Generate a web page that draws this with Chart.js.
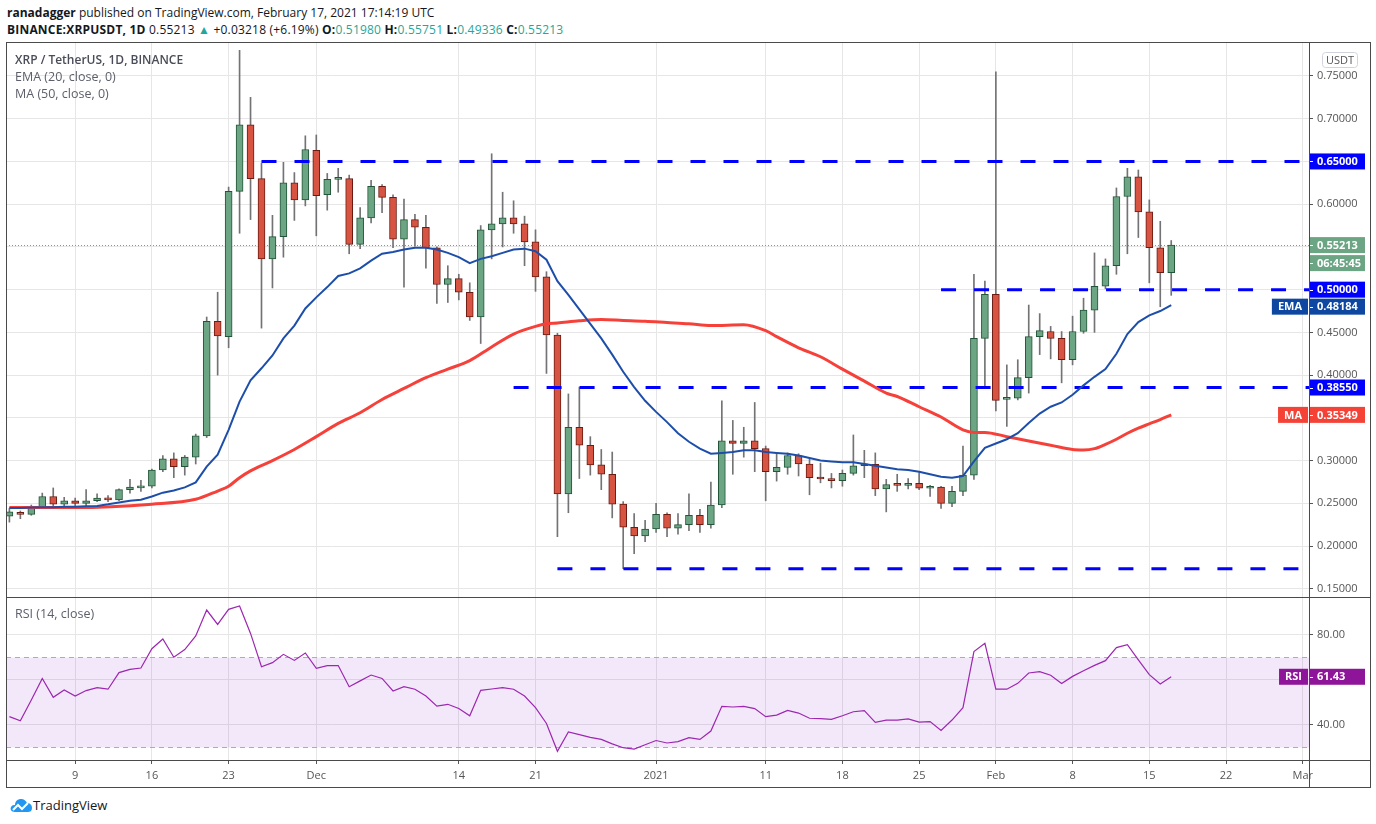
<!DOCTYPE html>
<html>
<head>
<meta charset="utf-8">
<title>XRP / TetherUS 1D</title>
<script src="https://cdn.jsdelivr.net/npm/chart.js@4.4.1/dist/chart.umd.min.js"></script>
<style>
  body { margin: 0; width: 1376px; height: 824px; overflow: hidden; background: #fff; position: relative; font-family: "Open Sans", "Liberation Sans", sans-serif; }
  canvas { position: absolute; left: 0; }
  .txt { position: absolute; white-space: nowrap; z-index: 3; }
  .hd { font-size: 12px; color: #131722; left: 7px; }
  .hd b { font-weight: 700; }
  .teal { color: #26a69a; }
  .leg { font-size: 12.5px; color: #5d606b; left: 15px; }
  .ln { position: absolute; background: #4a4a4a; z-index: 2; }
</style>
</head>
<body>

<div class="txt hd" style="top:4px"><b>ranadagger</b> published on TradingView.com, February 17, 2021 17:14:19 UTC</div>
<div class="txt hd" style="top:21px;letter-spacing:0.2px"><b>BINANCE:XRPUSDT, 1D</b> 0.55213 <span class="teal">&#9650;</span> +0.03218 (+6.19%) <b>O:</b><span class="teal">0.51980</span> <b>H:</b><span class="teal">0.55751</span> <b>L:</b><span class="teal">0.49336</span> <b>C:</b><span class="teal">0.55213</span></div>

<canvas id="main" width="1376" height="555" style="top:42px"></canvas>
<canvas id="rsi" width="1376" height="190" style="top:597px"></canvas>

<div class="txt leg" style="top:51px;font-size:12px;font-weight:600;color:#4a4d57">XRP / TetherUS, 1D, BINANCE</div>
<div class="txt leg" style="top:68px">EMA (20, close, 0)</div>
<div class="txt leg" style="top:85px">MA (50, close, 0)</div>
<div class="txt leg" style="top:605px">RSI (14, close)</div>

<!-- frame -->
<div class="ln" style="left:6px;top:42px;width:1364px;height:1px"></div>
<div class="ln" style="left:6px;top:787px;width:1365px;height:1px"></div>
<div class="ln" style="left:6px;top:42px;width:1px;height:745px"></div>
<div class="ln" style="left:1370px;top:42px;width:1px;height:745px"></div>
<div class="ln" style="left:6px;top:597px;width:1364px;height:1px"></div>
<div class="ln" style="left:6px;top:760px;width:1364px;height:1px"></div>
<div class="ln" style="left:1309px;top:42px;width:1px;height:745px"></div>

<svg style="position:absolute;left:10px;top:796px" width="22" height="18" viewBox="0 0 22 18">
  <path d="M5 16 C1 16 0 13 1 11 C2 9 4 9 5 9 C5 5 8 3 11 3 C14 3 16 5 17 7 C20 7 22 9 22 12 C22 15 20 16 18 16 Z" fill="#2196f3"/>
  <polyline points="3,14 8,9 12,13 18,7" fill="none" stroke="#fff" stroke-width="2"/>
</svg>
<div class="txt" style="left:33px;top:796px;font-size:13px;color:#131722">TradingView</div>

<script>
// Daily candles, index 0 = Nov 3 2020 ... index 106 = Feb 17 2021
const open = [
  0.235, 0.2395, 0.237, 0.245, 0.258, 0.249, 0.253, 0.250, 0.253, 0.256,
  0.254, 0.266, 0.268, 0.270, 0.289, 0.302, 0.293, 0.304, 0.329, 0.463,
  0.445, 0.615, 0.693, 0.630, 0.536, 0.562, 0.625, 0.605, 0.663, 0.611,
  0.629, 0.630, 0.553, 0.584, 0.621, 0.608, 0.559, 0.582, 0.573, 0.549,
  0.506, 0.513, 0.497, 0.468, 0.570, 0.577, 0.584, 0.577, 0.556, 0.515,
  0.447, 0.261, 0.339, 0.318, 0.295, 0.284, 0.249, 0.222, 0.212, 0.220,
  0.237, 0.221, 0.225, 0.236, 0.225, 0.248, 0.323, 0.320, 0.323, 0.314,
  0.287, 0.292, 0.306, 0.296, 0.280, 0.2785, 0.2766, 0.285, 0.294, 0.2955,
  0.267, 0.272, 0.271, 0.2734, 0.2676, 0.269, 0.250, 0.264, 0.283, 0.443,
  0.4946, 0.3716, 0.373, 0.397, 0.445, 0.451, 0.443, 0.418, 0.451, 0.476,
  0.504, 0.528, 0.609, 0.632, 0.591, 0.549, 0.5198
];
const high = [
  0.244, 0.241, 0.248, 0.262, 0.268, 0.257, 0.256, 0.266, 0.261, 0.259,
  0.267, 0.278, 0.277, 0.290, 0.306, 0.309, 0.306, 0.331, 0.468, 0.497,
  0.620, 0.780, 0.725, 0.648, 0.587, 0.649, 0.637, 0.680, 0.681, 0.636,
  0.642, 0.634, 0.596, 0.628, 0.623, 0.611, 0.606, 0.588, 0.587, 0.550,
  0.528, 0.518, 0.508, 0.575, 0.659, 0.614, 0.604, 0.586, 0.570, 0.521,
  0.449, 0.378, 0.386, 0.328, 0.313, 0.310, 0.252, 0.238, 0.230, 0.250,
  0.239, 0.238, 0.261, 0.243, 0.275, 0.370, 0.347, 0.339, 0.368, 0.317,
  0.309, 0.309, 0.308, 0.302, 0.297, 0.285, 0.289, 0.330, 0.312, 0.309,
  0.278, 0.284, 0.279, 0.286, 0.271, 0.270, 0.270, 0.317, 0.518, 0.510,
  0.755, 0.412, 0.418, 0.482, 0.472, 0.457, 0.451, 0.469, 0.490, 0.543,
  0.536, 0.619, 0.642, 0.640, 0.605, 0.580, 0.55751
];
const low = [
  0.228, 0.232, 0.236, 0.244, 0.244, 0.247, 0.246, 0.247, 0.252, 0.252,
  0.253, 0.262, 0.264, 0.268, 0.287, 0.280, 0.283, 0.296, 0.327, 0.400,
  0.432, 0.566, 0.582, 0.455, 0.502, 0.538, 0.581, 0.598, 0.563, 0.593,
  0.614, 0.542, 0.548, 0.578, 0.590, 0.549, 0.503, 0.551, 0.525, 0.484,
  0.485, 0.488, 0.464, 0.437, 0.536, 0.550, 0.566, 0.528, 0.498, 0.402,
  0.211, 0.239, 0.279, 0.283, 0.266, 0.233, 0.17351, 0.191, 0.205, 0.216,
  0.211, 0.214, 0.218, 0.216, 0.221, 0.245, 0.284, 0.304, 0.287, 0.253,
  0.276, 0.284, 0.282, 0.260, 0.274, 0.268, 0.270, 0.283, 0.280, 0.259,
  0.240, 0.264, 0.267, 0.266, 0.258, 0.244, 0.246, 0.259, 0.278, 0.386,
  0.358, 0.340, 0.371, 0.379, 0.424, 0.419, 0.391, 0.412, 0.449, 0.450,
  0.501, 0.518, 0.542, 0.561, 0.508, 0.480, 0.49336
];
const close = [
  0.240, 0.237, 0.245, 0.258, 0.249, 0.253, 0.250, 0.253, 0.256, 0.254,
  0.266, 0.269, 0.270, 0.289, 0.302, 0.293, 0.304, 0.329, 0.463, 0.446,
  0.615, 0.693, 0.630, 0.536, 0.562, 0.625, 0.605, 0.664, 0.610, 0.629,
  0.630, 0.553, 0.584, 0.621, 0.608, 0.559, 0.582, 0.573, 0.549, 0.506,
  0.513, 0.497, 0.468, 0.570, 0.577, 0.584, 0.577, 0.556, 0.515, 0.447,
  0.261, 0.339, 0.318, 0.295, 0.284, 0.249, 0.222, 0.212, 0.220, 0.237,
  0.221, 0.225, 0.236, 0.225, 0.248, 0.323, 0.320, 0.323, 0.314, 0.287,
  0.292, 0.306, 0.296, 0.280, 0.2785, 0.2766, 0.285, 0.294, 0.2955, 0.267,
  0.272, 0.271, 0.2734, 0.2676, 0.269, 0.250, 0.264, 0.283, 0.443, 0.4946,
  0.3705, 0.373, 0.397, 0.445, 0.452, 0.443, 0.418, 0.451, 0.476, 0.504,
  0.528, 0.609, 0.632, 0.591, 0.549, 0.5198, 0.55213
];

// EMA (20), one value per day
const ema20 = [
  0.2446, 0.2446, 0.245, 0.2455, 0.2455, 0.246, 0.246, 0.2465, 0.247, 0.2488,
  0.251, 0.253, 0.2543, 0.258, 0.2625, 0.265, 0.2687, 0.2745, 0.293, 0.307,
  0.336, 0.369, 0.394, 0.408, 0.423, 0.443, 0.458, 0.478, 0.491, 0.503,
  0.516, 0.519, 0.525, 0.534, 0.542, 0.544, 0.547, 0.549, 0.549, 0.547,
  0.543, 0.538, 0.531, 0.536, 0.539, 0.543, 0.547, 0.548, 0.545, 0.535,
  0.510, 0.494, 0.477, 0.460, 0.443, 0.424, 0.404, 0.386, 0.370, 0.357,
  0.345, 0.332, 0.322, 0.314, 0.308, 0.309, 0.310, 0.312, 0.312, 0.310,
  0.309, 0.308, 0.306, 0.303, 0.300, 0.299, 0.298, 0.298, 0.296, 0.294,
  0.292, 0.290, 0.289, 0.287, 0.284, 0.281, 0.280, 0.282, 0.299, 0.315,
  0.320, 0.325, 0.332, 0.344, 0.355, 0.363, 0.368, 0.377, 0.388, 0.398,
  0.407, 0.425, 0.448, 0.462, 0.470, 0.475, 0.48184
];

// MA (50) at these day indices
const maIdx = [0, 6, 13, 17, 19, 20, 21, 22, 24, 26, 28, 30, 32, 34, 36, 38, 40, 42, 44, 46,
  48, 49, 50, 52, 54, 56, 58, 60, 62, 64, 67, 69, 70, 72, 74, 76, 78, 80, 81, 83,
  85, 87, 88, 89, 91, 93, 95, 97, 98, 99, 100, 101, 102, 103, 104, 105, 106];
const ma50 = [0.245, 0.245, 0.249, 0.2547, 0.2644, 0.270, 0.280, 0.288, 0.300, 0.313,
  0.328, 0.3435, 0.356, 0.3715, 0.3844, 0.397, 0.407, 0.417, 0.433, 0.448,
  0.457, 0.460, 0.461, 0.4635, 0.465, 0.464, 0.463, 0.4615, 0.460, 0.458,
  0.459, 0.452, 0.445, 0.432, 0.4215, 0.407, 0.393, 0.379, 0.375, 0.363,
  0.351, 0.336, 0.333, 0.333, 0.328, 0.323, 0.318, 0.313, 0.3125, 0.314,
  0.319, 0.325, 0.332, 0.338, 0.343, 0.348, 0.35349];

// RSI (14)
const rsi14 = [
  43.7, 41.9, 51.1, 60.7, 52.3, 55.6, 52.9, 55.3, 56.6, 55.9,
  63.3, 64.7, 65.3, 73.9, 78.2, 70.1, 73.5, 79.6, 91.1, 84.7,
  91.4, 92.9, 80.7, 65.9, 67.7, 71.4, 68.7, 72.0, 65.2, 66.4,
  66.4, 57.0, 59.6, 62.2, 60.7, 55.1, 57.0, 55.9, 52.9, 48.4,
  49.2, 47.3, 44.1, 55.4, 56.0, 56.6, 55.9, 52.9, 47.7, 40.7,
  28.3, 36.9, 35.7, 34.5, 33.6, 31.6, 29.9, 29.3, 31.2, 33.1,
  32.0, 32.6, 34.4, 33.6, 37.3, 48.3, 48.0, 48.3, 47.3, 43.7,
  44.4, 46.5, 45.3, 43.0, 42.8, 42.5, 44.1, 45.9, 46.4, 41.2,
  42.2, 42.2, 42.7, 41.3, 41.5, 37.6, 42.2, 47.7, 72.6, 76.3,
  55.9, 55.9, 58.5, 63.1, 63.7, 62.1, 58.4, 61.6, 64.1, 66.5,
  68.6, 74.4, 75.7, 68.9, 62.4, 58.2, 61.43
];

// Horizontal levels drawn on the chart and the day they start from
const levels = [0.65, 0.50, 0.3855, 0.17351];
const levelStart = [23, 85, 46, 50];

// Axis ticks
const tickIdx = [6, 13, 20, 28, 41, 48, 59, 69, 76, 83, 90, 97, 104, 111, 118];
const tickLabels = ['9', '16', '23', 'Dec', '14', '21', '2021', '11', '18', '25', 'Feb', '8', '15', '22', 'Mar'];
const priceTicks = [0.15, 0.20, 0.25, 0.30, 0.35, 0.40, 0.45, 0.50, 0.55, 0.60, 0.65, 0.70, 0.75];
const rsiTicks = [40, 60, 80];

const X_MIN = -0.31;
const X_MAX = 118.57;
const FONT = '"Open Sans", "Liberation Sans", sans-serif';
const GRID = '#e6e6e6';
const last = close.length - 1;

const isUp = close.map((c, i) => c >= open[i]);

// shared x axis settings
function xAxis(showLabels) {
    return {
        type: 'linear',
        min: X_MIN,
        max: X_MAX,
        offset: false,
        grid: { color: GRID, offset: false, drawTicks: showLabels, tickLength: 4, tickColor: '#555' },
        border: { display: false },
        ticks: {
            display: showLabels,
            autoSkip: false,
            maxRotation: 0,
            padding: 5,
            color: '#555',
            font: { family: FONT, size: 11 },
            callback: (v) => tickLabels[tickIdx.indexOf(v)] ?? '',
        },
        afterBuildTicks: (s) => { s.ticks = tickIdx.map((v) => ({ value: v })); },
        afterFit: (s) => {
            s.height = showLabels ? 27 : 0;
            s.paddingLeft = 0;
            s.paddingRight = 0;
        },
    };
}

function rightAxis(min, max, ticks, fmt) {
    return {
        position: 'right',
        min: min,
        max: max,
        grid: { color: GRID, tickLength: 4, tickColor: '#555' },
        border: { display: false },
        ticks: { color: '#555', padding: 4, font: { family: FONT, size: 11 }, callback: fmt },
        afterBuildTicks: (s) => { s.ticks = ticks.map((v) => ({ value: v })); },
        afterFit: (s) => {
            s.width = 61;
            s.paddingTop = 0;
            s.paddingBottom = 0;
        },
    };
}

// draws a label box on the right axis, optional tag box left of it
function axisBox(ctx, area, py, text, bg, tag) {
    ctx.font = 'bold 11px ' + FONT;
    ctx.textBaseline = 'middle';
    ctx.fillStyle = bg;
    ctx.fillRect(area.right + 1, py - 8, 55, 16);
    ctx.fillStyle = '#fff';
    ctx.textAlign = 'left';
    ctx.fillText(text, area.right + 8, py + 0.5);
    ctx.fillRect(area.right + 1, Math.round(py), 3, 1);
    if (tag) {
        const w = ctx.measureText(tag).width + 12;
        ctx.fillStyle = bg;
        ctx.fillRect(area.right - 1 - w, py - 8, w, 16);
        ctx.fillStyle = '#fff';
        ctx.textAlign = 'center';
        ctx.fillText(tag, area.right - 1 - w / 2, py + 0.5);
    }
}

const mainOverlay = {
    id: 'mainOverlay',
    beforeDatasetsDraw(chart) {
        const { ctx, chartArea: a, scales: { y } } = chart;
        const py = Math.round(y.getPixelForValue(close[last])) + 0.5;
        ctx.save();
        ctx.strokeStyle = '#6ba583';
        ctx.lineWidth = 1;
        ctx.setLineDash([1, 2]);
        ctx.beginPath();
        ctx.moveTo(a.left, py);
        ctx.lineTo(a.right, py);
        ctx.stroke();
        ctx.restore();
    },
    afterDraw(chart) {
        const { ctx, chartArea: a, scales: { y } } = chart;
        ctx.save();
        // USDT tag
        ctx.strokeStyle = '#d1d4dc';
        ctx.lineWidth = 1;
        ctx.beginPath();
        ctx.roundRect(1322.5, 10.5, 35, 15, 3);
        ctx.stroke();
        ctx.fillStyle = '#555';
        ctx.font = '11px ' + FONT;
        ctx.textAlign = 'center';
        ctx.textBaseline = 'middle';
        ctx.fillText('USDT', 1340, 18.5);

        const boxes = [
            { v: levels[0], text: levels[0].toFixed(5), bg: '#0000ff' },
            { v: close[last], text: close[last].toFixed(5), bg: '#6ba583' },
            { v: null, text: '06:45:45', bg: '#6ba583' },
            { v: levels[1], text: levels[1].toFixed(5), bg: '#0000ff' },
            { v: ema20[last], text: ema20[last].toFixed(5), bg: '#0d47a1', tag: 'EMA' },
            { v: levels[2], text: levels[2].toFixed(5), bg: '#0000ff' },
            { v: ma50[ma50.length - 1], text: ma50[ma50.length - 1].toFixed(5), bg: '#f44336', tag: 'MA' },
        ];
        let prevBottom = -100;
        boxes.forEach((b) => {
            let py = b.v === null ? prevBottom + 10 : y.getPixelForValue(b.v);
            if (py - 8 < prevBottom + 1) py = prevBottom + 9;
            axisBox(ctx, a, py, b.text, b.bg, b.tag);
            prevBottom = py + 8;
        });
        ctx.restore();
    },
};

const rsiOverlay = {
    id: 'rsiOverlay',
    beforeDatasetsDraw(chart) {
        const { ctx, chartArea: a, scales: { y } } = chart;
        const y70 = Math.round(y.getPixelForValue(70)) + 0.5;
        const y30 = Math.round(y.getPixelForValue(30)) + 0.5;
        ctx.save();
        ctx.fillStyle = 'rgba(126, 34, 206, 0.1)';
        ctx.fillRect(a.left, y70, a.right - a.left, y30 - y70);
        ctx.strokeStyle = '#b3a7bb';
        ctx.lineWidth = 1;
        ctx.setLineDash([5, 4]);
        [y70, y30].forEach((py) => {
            ctx.beginPath();
            ctx.moveTo(a.left, py);
            ctx.lineTo(a.right, py);
            ctx.stroke();
        });
        ctx.restore();
    },
    afterDraw(chart) {
        const { ctx, chartArea: a, scales: { y } } = chart;
        ctx.save();
        axisBox(ctx, a, y.getPixelForValue(rsi14[last]), rsi14[last].toFixed(2), '#8e1599', 'RSI');
        ctx.restore();
    },
};

// Price chart: candles as floating bars (wick + body), EMA, MA and levels as lines
const levelSets = levels.map((lv, k) => ({
    type: 'line',
    data: [{ x: levelStart[k], y: lv }, { x: X_MAX, y: lv }],
    borderColor: '#0000ff',
    borderWidth: 3,
    borderDash: [15, 18],
    pointRadius: 0,
    order: 0,
}));

new Chart(document.getElementById('main'), {
    type: 'bar',
    data: {
        datasets: [
            {
                type: 'line',
                label: 'EMA',
                data: ema20.map((v, i) => ({ x: i, y: v })),
                borderColor: '#1d4eaa',
                borderWidth: 2,
                pointRadius: 0,
                order: 0,
            },
            {
                type: 'line',
                label: 'MA',
                data: maIdx.map((d, k) => ({ x: d, y: ma50[k] })),
                borderColor: '#f6413a',
                borderWidth: 3,
                pointRadius: 0,
                cubicInterpolationMode: 'monotone',
                order: 0,
            },
            ...levelSets,
            {
                label: 'body',
                data: open.map((o, i) => ({ x: i, y: [o, close[i]] })),
                backgroundColor: isUp.map((u) => (u ? '#6ba583' : '#d75442')),
                borderColor: isUp.map((u) => (u ? '#225437' : '#6b1b12')),
                borderWidth: 1,
                borderSkipped: false,
                barThickness: 7,
                minBarLength: 2,
                grouped: false,
                order: 1,
            },
            {
                label: 'wick',
                data: low.map((l, i) => ({ x: i, y: [l, high[i]] })),
                backgroundColor: '#737375',
                barThickness: 1,
                grouped: false,
                order: 2,
            },
        ],
    },
    options: {
        responsive: false,
        animation: false,
        plugins: { legend: { display: false }, tooltip: { enabled: false } },
        layout: { padding: { left: 6, right: 6, top: 1, bottom: 0 } },
        scales: {
            x: xAxis(false),
            y: rightAxis(0.1404, 0.7886, priceTicks, (v) => v.toFixed(5)),
        },
    },
    plugins: [mainOverlay],
});

// RSI pane with the time axis
new Chart(document.getElementById('rsi'), {
    type: 'line',
    data: {
        datasets: [
            {
                data: rsi14.map((v, i) => ({ x: i, y: v })),
                borderColor: '#9c27b0',
                borderWidth: 1.2,
                pointRadius: 0,
            },
        ],
    },
    options: {
        responsive: false,
        animation: false,
        plugins: { legend: { display: false }, tooltip: { enabled: false } },
        layout: { padding: { left: 6, right: 6, top: 1, bottom: 0 } },
        scales: {
            x: xAxis(true),
            y: rightAxis(24.44, 96.44, rsiTicks, (v) => (v === 60 ? '' : v.toFixed(2))),
        },
    },
    plugins: [rsiOverlay],
});
</script>
</body>
</html>
